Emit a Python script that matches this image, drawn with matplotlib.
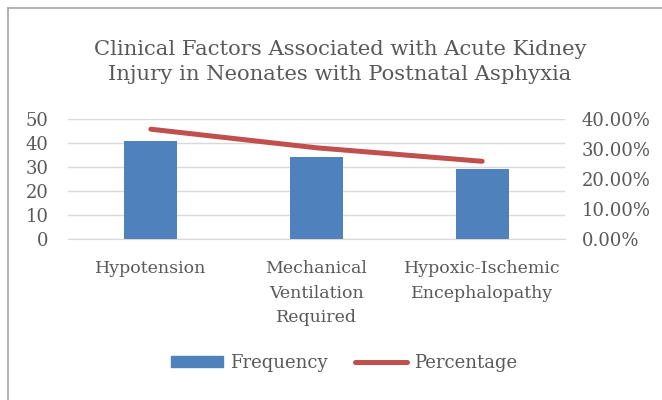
import matplotlib
matplotlib.use("Agg")
import matplotlib.pyplot as plt
from matplotlib.lines import Line2D
from matplotlib.patches import Patch
from matplotlib.ticker import FuncFormatter

plt.rcParams["font.family"] = ["DejaVu Serif"]

categories = ["Hypotension", "Mechanical\nVentilation\nRequired", "Hypoxic-Ischemic\nEncephalopathy"]
frequency = [41, 34, 29]
percentage = [36.6, 30.4, 25.9]

GREY = "#595959"
BLUE = "#4f81bd"
RED = "#c0504d"

fig = plt.figure(figsize=(6.62, 4.0), dpi=100)
ax = fig.add_axes([68 / 662, 1 - 239 / 400, (565 - 68) / 662, 120 / 400])
x = range(len(categories))
ax.bar(x, frequency, width=0.32, color=BLUE, zorder=3)
ax.set_xlim(-0.5, 2.5)
ax.set_ylim(0, 50)
ax.set_yticks(range(0, 51, 10))
ax.yaxis.grid(True, color="#d9d9d9", lw=1)
ax.set_axisbelow(True)
for sp in ax.spines.values():
    sp.set_visible(False)
ax.spines["bottom"].set_visible(True)
ax.spines["bottom"].set_color("#d9d9d9")
ax.tick_params(length=0, colors=GREY, labelsize=13)
ax.tick_params(axis="y", pad=14)
ax.set_xticks(list(x))
ax.set_xticklabels(categories, fontsize=12.5, color=GREY, linespacing=1.6, va="top")
ax.tick_params(axis="x", pad=15)

ax2 = ax.twinx()
ax2.plot(list(x), percentage, color=RED, lw=3.6, solid_capstyle="round", zorder=4)
ax2.set_ylim(0, 40)
ax2.set_yticks(range(0, 41, 10))
ax2.yaxis.set_major_formatter(FuncFormatter(lambda v, p: f"{v:.2f}%"))
for sp in ax2.spines.values():
    sp.set_visible(False)
ax2.tick_params(length=0, colors=GREY, labelsize=13, pad=12)

fig.text(340 / 662, 1 - 62 / 400, "Clinical Factors Associated with Acute Kidney\nInjury in Neonates with Postnatal Asphyxia",
         ha="center", va="center", fontsize=15.2, color=GREY, linespacing=1.45)

handles = [Patch(color=BLUE, label="Frequency"),
           Line2D([0], [0], color=RED, lw=3.6, solid_capstyle="round", label="Percentage")]
fig.legend(handles=handles, loc="center", bbox_to_anchor=(344 / 662, 1 - 363 / 400), ncol=2,
           frameon=False, fontsize=13, labelcolor=GREY, handlelength=2.9, handleheight=0.6,
           columnspacing=1.5, handletextpad=0.4)

fig.add_artist(Line2D([8 / 662, 8 / 662], [0, 1 - 8 / 400], color="#a6a6a6", lw=1.2))
fig.add_artist(Line2D([8 / 662, 1], [1 - 8 / 400, 1 - 8 / 400], color="#a6a6a6", lw=1.2))

fig.savefig("out.png", dpi=100)
